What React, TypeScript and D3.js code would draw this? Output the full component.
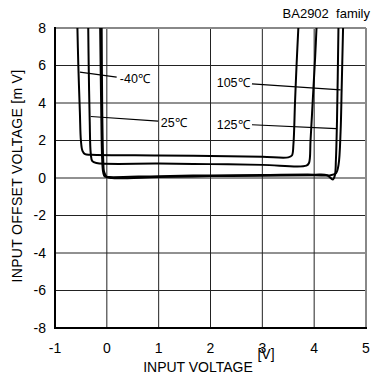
import React from "react";
import * as d3 from "d3";

const xTicks = [-1, 0, 1, 2, 3, 4, 5];
const yTicks = [-8, -6, -4, -2, 0, 2, 4, 6, 8];

// [input voltage V, offset mV]
const curveM40: [number, number][] = [
  [-0.57, 8.3], [-0.55, 6], [-0.52, 3.5], [-0.5, 2], [-0.47, 1.45], [-0.42, 1.27], [-0.3, 1.24],
  [1, 1.2], [2, 1.17], [3, 1.13], [3.5, 1.1], [3.57, 1.2], [3.6, 1.8], [3.63, 4], [3.66, 6], [3.7, 8.3],
];
const curve25: [number, number][] = [
  [-0.36, 8.3], [-0.35, 6], [-0.33, 3], [-0.31, 1.3], [-0.28, 0.9], [-0.2, 0.8],
  [1, 0.77], [2, 0.74], [3, 0.7], [3.85, 0.66], [3.9, 0.8], [3.93, 2], [3.98, 4.5], [4.02, 6.5], [4.05, 8.3],
];
const curve105: [number, number][] = [
  [-0.1, 8.3], [-0.09, 4], [-0.07, 1], [-0.05, 0.3], [0.0, 0.06], [0.1, 0.0],
  [1, 0.05], [2, 0.1], [3, 0.12], [4, 0.15], [4.3, 0.14], [4.42, 0.25], [4.47, 0.7], [4.51, 2.5], [4.53, 4.7], [4.56, 8.3],
];
const curve125: [number, number][] = [
  [-0.13, 8.3], [-0.11, 4], [-0.09, 1], [-0.07, 0.3], [-0.04, 0.08], [0.05, 0.05],
  [1, 0.1], [2, 0.14], [3, 0.16], [4, 0.18], [4.25, 0.15], [4.36, -0.08], [4.4, 0.15], [4.42, 1], [4.44, 3], [4.47, 8.3],
];
const curves = [curveM40, curve25, curve105, curve125];

// labels: text, text anchor position [V, mV], leader from [V,mV] to [V,mV]
const labelTexts = ["-40℃", "25℃", "105℃", "125℃"];
const labelPos: [number, number][] = [[0.25, 5.3], [1.04, 2.95], [2.12, 5.1], [2.12, 2.84]];
const leaderFrom: [number, number][] = [[-0.52, 5.65], [-0.31, 3.28], [2.8, 5.02], [2.8, 2.84]];
const leaderTo: [number, number][] = [[0.19, 5.38], [0.99, 3.03], [4.51, 4.7], [4.43, 2.63]];

export default function App() {
  const W = 374, H = 390;
  const L = 55, R = 366, T = 28, B = 328;
  const x = d3.scaleLinear().domain([-1, 5]).range([L, R]);
  const y = d3.scaleLinear().domain([-8, 8]).range([B, T]);
  const line = d3
    .line<[number, number]>()
    .x((d) => x(d[0]))
    .y((d) => y(d[1]))
    .curve(d3.curveCatmullRom.alpha(0.5));
  const font = "'Liberation Sans', Arial, sans-serif";
  return (
    <svg
      width={W}
      height={H}
      style={{ position: "absolute", left: 0, top: 0, background: "#fff" }}
      fontFamily={font}
    >
      <defs>
        <clipPath id="plot">
          <rect x={L} y={T} width={R - L} height={B - T} />
        </clipPath>
      </defs>
      {xTicks.slice(1, -1).map((t) => (
        <line key={"gx" + t} x1={x(t)} x2={x(t)} y1={T} y2={B} stroke="#222" strokeWidth={1} />
      ))}
      {yTicks.slice(1, -1).map((t) => (
        <line key={"gy" + t} x1={L} x2={R} y1={y(t)} y2={y(t)} stroke="#222" strokeWidth={1} />
      ))}
      <line x1={L} x2={R} y1={T} y2={T} stroke="#888" strokeWidth={2} />
      <line x1={R} x2={R} y1={T} y2={B} stroke="#888" strokeWidth={2} />
      <line x1={L} x2={L} y1={T - 1} y2={B + 1} stroke="#000" strokeWidth={2} />
      <line x1={L} x2={R + 1} y1={B} y2={B} stroke="#000" strokeWidth={2} />
      <g clipPath="url(#plot)">
        {curves.map((c, i) => (
          <path key={i} d={line(c) || ""} fill="none" stroke="#000" strokeWidth={2} strokeLinejoin="round" />
        ))}
      </g>
      {labelTexts.map((t, i) => (
        <g key={t}>
          <line
            x1={x(leaderFrom[i][0])}
            y1={y(leaderFrom[i][1])}
            x2={x(leaderTo[i][0])}
            y2={y(leaderTo[i][1])}
            stroke="#000"
            strokeWidth={1.2}
          />
          <text x={x(labelPos[i][0])} y={y(labelPos[i][1])} fontSize={12.5} dy="0.35em" fill="#000">
            {t}
          </text>
        </g>
      ))}
      {xTicks.map((t) => (
        <text key={"xt" + t} x={x(t)} y={353} fontSize={14} textAnchor="middle" fill="#000">
          {t}
        </text>
      ))}
      {yTicks.map((t) => (
        <text key={"yt" + t} x={46} y={y(t)} dy="0.35em" fontSize={14} textAnchor="end" fill="#000">
          {t}
        </text>
      ))}
      <text x={198} y={372} fontSize={14} textAnchor="middle" fill="#000">INPUT VOLTAGE</text>
      <text x={266} y={359} fontSize={14} textAnchor="middle" fill="#000">[V]</text>
      <text
        transform={`translate(17,${176}) rotate(-90)`}
        fontSize={14}
        textAnchor="middle"
        dy="0.35em"
        letterSpacing={0.3}
        fill="#000"
        style={{ whiteSpace: "pre" }}
      >
        INPUT OFFSET VOLTAGE [m V]
      </text>
      <text x={370} y={18} fontSize={13} textAnchor="end" fill="#000" style={{ whiteSpace: "pre" }}>
        BA2902  family
      </text>
    </svg>
  );
}
